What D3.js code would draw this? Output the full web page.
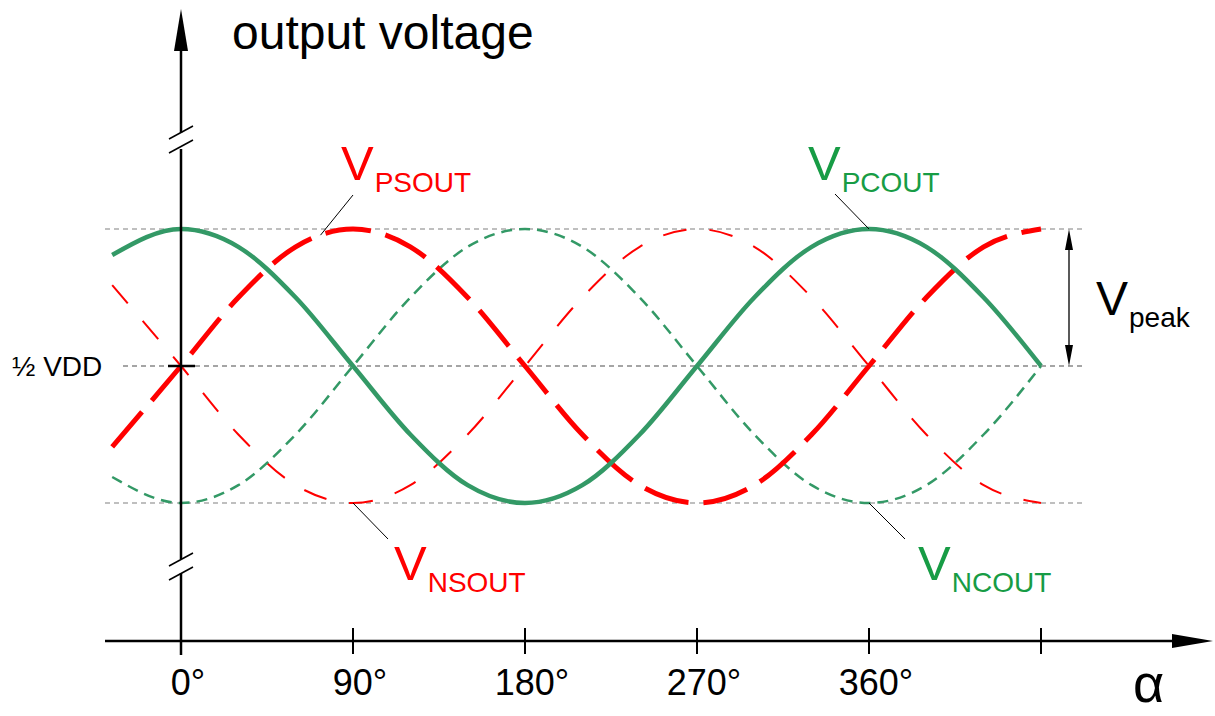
<!DOCTYPE html>
<html>
<head>
<meta charset="utf-8">
<script src="https://cdn.jsdelivr.net/npm/d3@7"></script>
<style>
  body { margin: 0; background: #fff; }
  text { font-family: "Liberation Sans", Arial, sans-serif; }
</style>
</head>
<body>
<svg id="chart" width="1215" height="716"></svg>
<script>
const svg = d3.select('#chart');

// phase angle (degrees) and normalised output around 1/2 VDD (+1 = Vpeak)
const alpha = [-36, 0, 30, 60, 90, 120, 150, 180, 210, 240, 270, 300, 330, 360, 390, 420, 450];
const vPSOUT = [-0.59, 0, 0.5, 0.87, 1, 0.87, 0.5, 0, -0.5, -0.87, -1, -0.87, -0.5, 0, 0.5, 0.87, 1];
const vNSOUT = [0.59, 0, -0.5, -0.87, -1, -0.87, -0.5, 0, 0.5, 0.87, 1, 0.87, 0.5, 0, -0.5, -0.87, -1];
const vPCOUT = [0.81, 1, 0.87, 0.5, 0, -0.5, -0.87, -1, -0.87, -0.5, 0, 0.5, 0.87, 1, 0.87, 0.5, 0];
const vNCOUT = [-0.81, -1, -0.87, -0.5, 0, 0.5, 0.87, 1, 0.87, 0.5, 0, -0.5, -0.87, -1, -0.87, -0.5, 0];

const tickAngles = [0, 90, 180, 270, 360, 450];
const tickLabels = ['0', '90', '180', '270', '360', ''];
const levels = [1, 0, -1];

const red = '#ff0000';
const green = '#339966';
const greenText = '#179c45';

const x = d3.scaleLinear().domain([0, 450]).range([181, 1041]);
const y = d3.scaleLinear().domain([-1, 1]).range([503, 229]);
const axisY = 641;

// reference levels
svg.selectAll('line.level')
  .data(levels)
  .join('line')
  .attr('class', 'level')
  .attr('x1', (d) => (d === 0 ? 123 : 105))
  .attr('x2', 1083)
  .attr('y1', (d) => y(d))
  .attr('y2', (d) => y(d))
  .attr('stroke', (d) => (d === 0 ? '#888' : '#aaa'))
  .attr('stroke-width', 1.3)
  .attr('stroke-dasharray', '5,4');

const line = (vals) => d3.line()
  .x((d) => x(d))
  .y((d, i) => y(vals[i]))
  .curve(d3.curveMonotoneX)(alpha);

const series = [
  { vals: vNSOUT, color: red, width: 2, dash: '24,23' },
  { vals: vNCOUT, color: green, width: 2.5, dash: '11,7' },
  { vals: vPSOUT, color: red, width: 5, dash: '46,15' },
  { vals: vPCOUT, color: green, width: 4.5, dash: null },
];

svg.selectAll('path.curve')
  .data(series)
  .join('path')
  .attr('class', 'curve')
  .attr('d', (s) => line(s.vals))
  .attr('fill', 'none')
  .attr('stroke', (s) => s.color)
  .attr('stroke-width', (s) => s.width)
  .attr('stroke-dasharray', (s) => s.dash);

// y axis with breaks
const ax = x(0);
[[51, 133], [149, 559], [573, 655]].forEach(([a, b]) => {
  svg.append('line').attr('x1', ax).attr('x2', ax).attr('y1', a).attr('y2', b)
    .attr('stroke', '#000').attr('stroke-width', 2.5);
});
svg.append('path')
  .attr('d', `M${ax},9L${ax - 7},51L${ax + 7},51Z`)
  .attr('fill', '#000');
[139, 153, 566, 580].forEach((yy) => {
  svg.append('line')
    .attr('x1', ax - 12).attr('y1', yy)
    .attr('x2', ax + 12).attr('y2', yy - 13)
    .attr('stroke', '#000').attr('stroke-width', 1.5);
});
svg.append('line')
  .attr('x1', ax - 13).attr('x2', ax + 14)
  .attr('y1', y(0)).attr('y2', y(0))
  .attr('stroke', '#000').attr('stroke-width', 2.5);

// x axis
svg.append('line')
  .attr('x1', 105).attr('x2', 1175)
  .attr('y1', axisY).attr('y2', axisY)
  .attr('stroke', '#000').attr('stroke-width', 2.5);
svg.append('path')
  .attr('d', `M1213,${axisY}L1172,${axisY - 7}L1172,${axisY + 7}Z`)
  .attr('fill', '#000');
svg.selectAll('line.tick')
  .data(tickAngles.slice(1))
  .join('line')
  .attr('class', 'tick')
  .attr('x1', (d) => x(d)).attr('x2', (d) => x(d))
  .attr('y1', axisY - 13).attr('y2', axisY + 13)
  .attr('stroke', '#000').attr('stroke-width', 2);

svg.selectAll('text.tlabel')
  .data(tickAngles.filter((d, i) => tickLabels[i] !== ''))
  .join('text')
  .attr('class', 'tlabel')
  .attr('x', (d) => x(d))
  .attr('dx', 7)
  .attr('y', 695)
  .attr('text-anchor', 'middle')
  .attr('font-size', 36)
  .text((d) => tickLabels[tickAngles.indexOf(d)] + '°');

svg.append('text')
  .attr('x', 1133).attr('y', 702)
  .attr('font-family', '"Liberation Serif", "Times New Roman", serif')
  .attr('font-size', 54)
  .text('α');

svg.append('text')
  .attr('x', 232).attr('y', 49)
  .attr('font-size', 48)
  .text('output voltage');

svg.append('text')
  .attr('x', 12).attr('y', 376)
  .attr('font-size', 28)
  .text('½ VDD');

// V labels with leader lines
const labels = [
  { main: 'V', sub: 'PSOUT', lx: 341, ly: 180, color: red, from: [353, 195], at: [73, 0.955] },
  { main: 'V', sub: 'PCOUT', lx: 808, ly: 180, color: greenText, from: [835, 194], at: [360, 1] },
  { main: 'V', sub: 'NSOUT', lx: 394, ly: 580, color: red, from: [388, 539], at: [90, -1] },
  { main: 'V', sub: 'NCOUT', lx: 918, ly: 580, color: greenText, from: [905, 539], at: [360, -1] },
];

svg.selectAll('line.leader')
  .data(labels)
  .join('line')
  .attr('class', 'leader')
  .attr('x1', (d) => d.from[0]).attr('y1', (d) => d.from[1])
  .attr('x2', (d) => x(d.at[0])).attr('y2', (d) => y(d.at[1]))
  .attr('stroke', '#000').attr('stroke-width', 1);

const lt = svg.selectAll('text.vlabel')
  .data(labels)
  .join('text')
  .attr('class', 'vlabel')
  .attr('x', (d) => d.lx).attr('y', (d) => d.ly)
  .attr('fill', (d) => d.color);
lt.append('tspan').attr('font-size', 49).text((d) => d.main);
lt.append('tspan').attr('font-size', 28).attr('dy', 12).attr('dx', 1).text((d) => d.sub);

// Vpeak dimension arrow
const px = 1069;
svg.append('line')
  .attr('x1', px).attr('x2', px)
  .attr('y1', y(1) + 18).attr('y2', y(0) - 18)
  .attr('stroke', '#000').attr('stroke-width', 1.3);
svg.append('path')
  .attr('d', `M${px},${y(1)}L${px - 4},${y(1) + 21}L${px + 4},${y(1) + 21}Z` +
    `M${px},${y(0)}L${px - 4},${y(0) - 21}L${px + 4},${y(0) - 21}Z`)
  .attr('fill', '#000');
const vp = svg.append('text').attr('x', 1096).attr('y', 315);
vp.append('tspan').attr('font-size', 48).text('V');
vp.append('tspan').attr('font-size', 28).attr('dy', 12).attr('dx', 1).text('peak');
</script>
</body>
</html>
